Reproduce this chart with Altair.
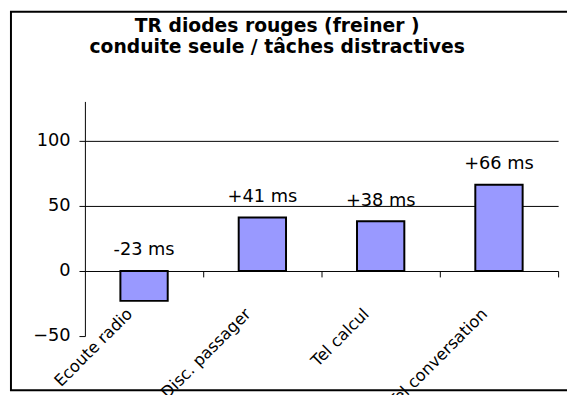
import altair as alt
import pandas as pd

categories = ["Ecoute radio", "Disc. passager", "Tel calcul", "Tel conversation"]
values = [-23, 41, 38, 66]
value_labels = ["-23 ms", "+41 ms", "+38 ms", "+66 ms"]
y_ticks = [-50, 0, 50, 100]

df = pd.DataFrame({"cat": categories, "v": values, "lab": value_labels})

FONT = "DejaVu Sans"
FS = 18

x_enc = alt.X(
    "cat:N",
    sort=categories,
    scale=alt.Scale(paddingInner=0, paddingOuter=0),
    axis=alt.Axis(
        title=None, labelAngle=-45, labelAlign="right", labelBaseline="top",
        bandPosition=1, offset=-66, domainColor="black", domainWidth=1,
        tickColor="black", tickSize=6, labelPadding=29, labelOffset=-20,
        labelFontSize=16.5, labelFont=FONT, labelColor="black", grid=False,
    ),
)
y_enc = alt.Y(
    "v:Q",
    scale=alt.Scale(domain=[-50, 130], nice=False, zero=False),
    axis=alt.Axis(
        title=None, values=y_ticks, domainColor="black", tickColor="black",
        tickSize=6, labelPadding=9, labelFontSize=FS, labelFont=FONT,
        labelColor="black", grid=True, gridColor="black",
        gridOpacity={"condition": {"test": "datum.value > 0", "value": 1}, "value": 0},
    ),
)

base = alt.Chart(df)

bars = base.mark_bar(
    width=alt.RelativeBandSize(0.4), color="#9999FF", stroke="black", strokeWidth=2
).encode(x=x_enc, y=y_enc)

texts = base.transform_calculate(lp="max(datum.v, 0)").mark_text(
    font=FONT, fontSize=FS, color="black", baseline="alphabetic", dy=-16
).encode(x=alt.X("cat:N", sort=categories), y=alt.Y("lp:Q"), text="lab:N")

frame = alt.Chart(alt.Data(values=[{"a": 1}])).mark_rect(
    fillOpacity=0, stroke="black", strokeWidth=2
).encode(x=alt.value(-75), x2=alt.value(495), y=alt.value(-91), y2=alt.value(293))

chart = alt.layer(frame, bars, texts).properties(
    width=480, height=238,
    autosize=alt.AutoSizeParams(type="none"),
    padding={"left": 78, "top": 92, "right": 9, "bottom": 57},
    title=alt.TitleParams(
        ["TR diodes rouges (freiner )", "conduite seule / tâches distractives"],
        font=FONT, fontSize=19, fontWeight="bold", color="black",
        anchor="middle", dx=-45, dy=47, lineHeight=21, offset=0,
    ),
).configure_view(stroke=None)

chart.save("out.html", embed_options={"renderer": "svg", "actions": False})
